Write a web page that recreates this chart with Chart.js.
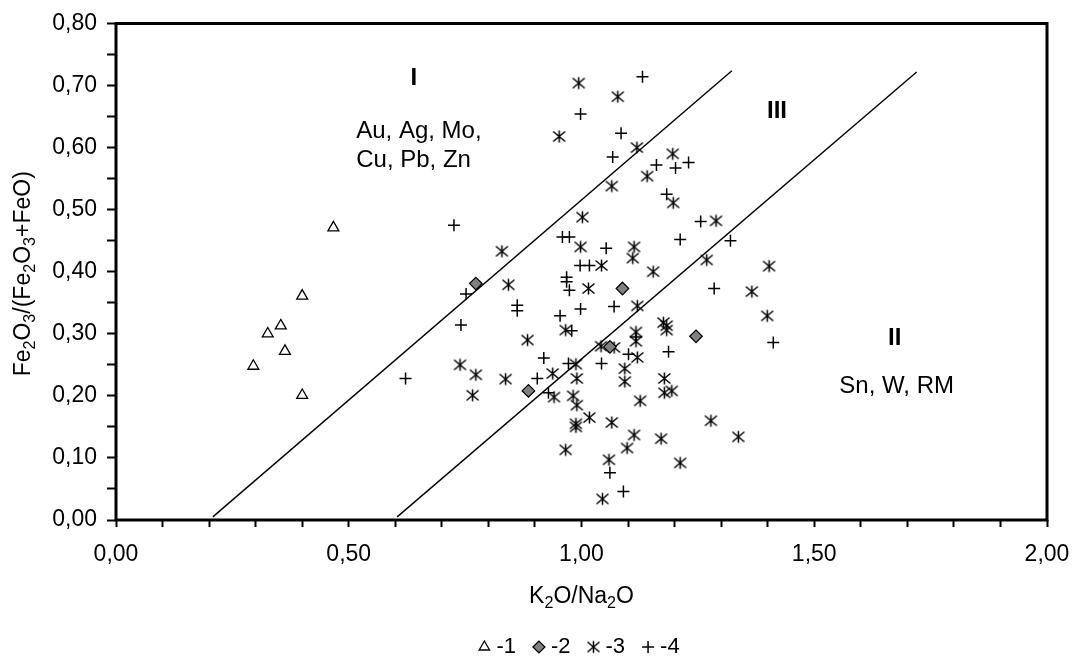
<!DOCTYPE html>
<html>
<head>
<meta charset="utf-8">
<script src="https://cdn.jsdelivr.net/npm/chart.js@4/dist/chart.umd.min.js"></script>
<style>
  html, body { margin: 0; padding: 0; background: #fff; }
  #wrap { width: 1073px; height: 658px; }
</style>
</head>
<body>
<div id="wrap"><canvas id="myScatter" width="1073" height="658"></canvas></div>
<script>
// K2O/Na2O (x) vs Fe2O3/(Fe2O3+FeO) (y)
const group1 = [ // triangles
  [0.295, 0.248], [0.326, 0.300], [0.354, 0.313], [0.363, 0.272],
  [0.400, 0.361], [0.400, 0.201], [0.467, 0.471]
];
const group2 = [ // grey diamonds
  [0.773, 0.381], [0.886, 0.208], [1.088, 0.373], [1.246, 0.296], [1.061, 0.279]
];
const group3 = [ // asterisks
  [0.994, 0.704], [1.078, 0.682], [0.952, 0.618], [1.119, 0.600], [1.196, 0.590],
  [1.141, 0.554], [1.065, 0.538], [1.197, 0.511], [1.002, 0.488], [1.289, 0.482],
  [0.829, 0.433], [0.998, 0.440], [1.113, 0.440], [1.110, 0.422], [1.269, 0.419],
  [1.403, 0.409], [1.043, 0.410], [1.154, 0.400], [0.843, 0.379], [1.015, 0.373],
  [1.366, 0.368], [1.120, 0.345], [1.399, 0.329], [1.176, 0.318], [1.183, 0.313],
  [1.183, 0.306], [0.966, 0.306], [0.884, 0.290], [1.117, 0.303], [1.117, 0.288],
  [1.042, 0.280], [1.070, 0.278], [1.120, 0.262], [0.988, 0.251], [0.739, 0.250],
  [1.093, 0.244], [0.938, 0.236], [0.773, 0.234], [0.990, 0.228], [0.837, 0.227],
  [1.093, 0.223], [1.178, 0.228], [1.178, 0.205], [1.194, 0.208], [0.766, 0.201],
  [0.941, 0.198], [0.982, 0.200], [0.990, 0.185], [1.126, 0.192], [1.017, 0.165],
  [1.278, 0.160], [0.988, 0.155], [0.988, 0.150], [1.065, 0.157], [1.113, 0.137],
  [1.337, 0.134], [1.171, 0.131], [1.098, 0.116], [0.966, 0.113], [1.059, 0.097],
  [1.212, 0.092], [1.045, 0.034]
];
const group4 = [ // crosses
  [1.131, 0.714], [0.998, 0.654], [1.085, 0.623], [1.067, 0.585], [1.230, 0.576],
  [1.161, 0.572], [1.202, 0.567], [1.183, 0.525], [0.726, 0.475], [0.959, 0.456],
  [0.974, 0.456], [1.212, 0.452], [1.320, 0.450], [1.256, 0.481], [1.053, 0.438],
  [0.997, 0.410], [1.017, 0.410], [0.968, 0.391], [0.968, 0.384], [0.974, 0.370],
  [1.285, 0.373], [0.752, 0.364], [0.862, 0.346], [0.862, 0.337], [0.998, 0.340],
  [1.070, 0.344], [0.954, 0.329], [0.741, 0.314], [0.979, 0.305], [1.117, 0.295],
  [1.412, 0.286], [1.187, 0.271], [1.101, 0.267], [0.919, 0.261], [0.972, 0.252],
  [1.043, 0.252], [0.905, 0.228], [0.622, 0.228], [0.929, 0.205], [1.061, 0.076],
  [1.090, 0.046]
];
// field boundaries
const lineLeft = [[0.208, 0.005], [1.323, 0.724]];
const lineRight = [[0.604, 0.005], [1.720, 0.722]];

const seriesNames = ['-1', '-2', '-3', '-4'];
const xTickValues = [0, 0.5, 1, 1.5, 2];
const xTickLabels = ['0,00', '0,50', '1,00', '1,50', '2,00'];
const yTickValues = [0, 0.1, 0.2, 0.3, 0.4, 0.5, 0.6, 0.7, 0.8];
const yTickLabels = ['0,00', '0,10', '0,20', '0,30', '0,40', '0,50', '0,60', '0,70', '0,80'];

const FONT = '"Liberation Sans", Arial, sans-serif';

const zoneLabels = [
  { text: 'I', x: 0.640, y: 0.701, bold: true, align: 'center' },
  { text: 'Au, Ag, Mo,', x: 0.516, y: 0.615, align: 'left' },
  { text: 'Cu, Pb, Zn', x: 0.516, y: 0.569, align: 'left' },
  { text: 'III', x: 1.420, y: 0.647, bold: true, align: 'center' },
  { text: 'II', x: 1.673, y: 0.282, bold: true, align: 'center' },
  { text: 'Sn, W, RM', x: 1.677, y: 0.204, align: 'center' }
];

const toXY = arr => arr.map(p => ({ x: p[0], y: p[1] }));

const tickLabel = (values, labels) => value => {
  const i = values.findIndex(v => Math.abs(v - value) < 1e-6);
  return i >= 0 ? labels[i] : '';
};

const makeAsterisk = () => {
  const c = document.createElement('canvas');
  c.width = 15; c.height = 15;
  const g = c.getContext('2d');
  g.strokeStyle = '#000';
  g.lineWidth = 1.5;
  g.beginPath();
  g.moveTo(7.5, 1.5); g.lineTo(7.5, 13.5);
  g.moveTo(1.5, 2.5); g.lineTo(13.5, 12.5);
  g.moveTo(1.5, 12.5); g.lineTo(13.5, 2.5);
  g.stroke();
  return c;
};

// text with subscript digits: parts = [[text, isSub], ...]
const drawRich = (ctx, parts, x, y, size) => {
  const subSize = size * 0.7;
  let total = 0;
  parts.forEach(([t, sub]) => {
    ctx.font = (sub ? subSize : size) + 'px ' + FONT;
    total += ctx.measureText(t).width;
  });
  let cx = x - total / 2;
  parts.forEach(([t, sub]) => {
    ctx.font = (sub ? subSize : size) + 'px ' + FONT;
    ctx.fillText(t, cx, sub ? y + size * 0.2 : y);
    cx += ctx.measureText(t).width;
  });
};

const decorations = {
  id: 'decorations',
  afterDraw(chart) {
    const { ctx, chartArea: a, scales } = chart;
    ctx.save();
    // frame
    ctx.strokeStyle = '#000';
    ctx.lineWidth = 3;
    ctx.strokeRect(a.left, a.top, a.right - a.left, a.bottom - a.top);

    ctx.fillStyle = '#000';
    ctx.textBaseline = 'alphabetic';
    ctx.textAlign = 'left';
    // axis titles
    drawRich(ctx, [['K', 0], ['2', 1], ['O/Na', 0], ['2', 1], ['O', 0]],
      (a.left + a.right) / 2, 603, 23);
    ctx.save();
    ctx.translate(30, (a.top + a.bottom) / 2 + 2);
    ctx.rotate(-Math.PI / 2);
    drawRich(ctx, [['Fe', 0], ['2', 1], ['O', 0], ['3', 1], ['/(Fe', 0], ['2', 1], ['O', 0], ['3', 1], ['+FeO)', 0]],
      0, 0, 23);
    ctx.restore();

    // field labels
    zoneLabels.forEach(l => {
      ctx.font = (l.bold ? 'bold ' : '') + '24px ' + FONT;
      ctx.textAlign = l.align;
      ctx.fillText(l.text, scales.x.getPixelForValue(l.x), scales.y.getPixelForValue(l.y));
    });
    ctx.restore();
  }
};

const scatterChart = () => {
  const ctx = document.getElementById('myScatter').getContext('2d');
  new Chart(ctx, {
    type: 'scatter',
    data: {
      datasets: [
        {
          label: seriesNames[0], data: toXY(group1),
          pointStyle: 'triangle', pointRadius: 6.3,
          backgroundColor: '#fff', borderColor: '#000', borderWidth: 1.3
        },
        {
          label: seriesNames[1], data: toXY(group2),
          pointStyle: 'rectRot', pointRadius: 6.3,
          backgroundColor: '#808080', borderColor: '#000', borderWidth: 1.2
        },
        {
          label: seriesNames[2], data: toXY(group3),
          pointStyle: makeAsterisk(), pointRadius: 6,
          backgroundColor: '#000', borderColor: '#000', borderWidth: 1.5
        },
        {
          label: seriesNames[3], data: toXY(group4),
          pointStyle: 'cross', pointRadius: 6,
          backgroundColor: '#000', borderColor: '#000', borderWidth: 1.5
        },
        {
          label: 'bound1', data: toXY(lineLeft), showLine: true,
          pointRadius: 0, borderColor: '#000', borderWidth: 1.4
        },
        {
          label: 'bound2', data: toXY(lineRight), showLine: true,
          pointRadius: 0, borderColor: '#000', borderWidth: 1.4
        }
      ]
    },
    options: {
      responsive: false,
      animation: false,
      events: [],
      layout: { padding: { top: 23.5, right: 26, bottom: -10, left: 0 } },
      scales: {
        x: {
          type: 'linear', min: 0, max: 2,
          afterFit: s => { s.height = 94; s.paddingLeft = 0; s.paddingRight = 0; },
          border: { display: false },
          grid: { drawOnChartArea: false, drawTicks: true, tickLength: 7, tickWidth: 2, tickColor: '#000' },
          ticks: {
            stepSize: 0.1, autoSkip: false, maxRotation: 0, padding: 14,
            color: '#000', font: { family: FONT, size: 23 },
            callback: tickLabel(xTickValues, xTickLabels)
          }
        },
        y: {
          type: 'linear', min: 0, max: 0.8,
          afterFit: s => { s.width = 116; s.paddingTop = 0; s.paddingBottom = 0; },
          border: { display: false },
          grid: { drawOnChartArea: false, drawTicks: true, tickLength: 9, tickWidth: 2, tickColor: '#000' },
          ticks: {
            stepSize: 0.05, autoSkip: false, padding: 10,
            color: '#000', font: { family: FONT, size: 23 },
            callback: tickLabel(yTickValues, yTickLabels)
          }
        }
      },
      plugins: {
        legend: {
          position: 'bottom',
          fullSize: false,
          labels: {
            usePointStyle: true,
            boxWidth: 2,
            boxHeight: 8.5,
            padding: 22,
            color: '#000',
            font: { family: FONT, size: 22 },
            filter: item => seriesNames.includes(item.text)
          }
        },
        tooltip: { enabled: false }
      }
    },
    plugins: [decorations]
  });
};

scatterChart();
</script>
</body>
</html>
